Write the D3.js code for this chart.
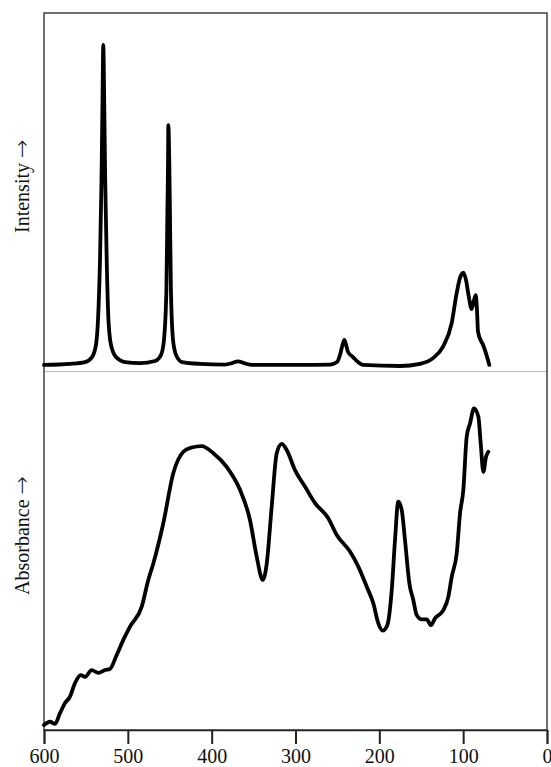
<!DOCTYPE html>
<html>
<head>
<meta charset=utf-8 />
<title>Raman / IR spectra</title>
<style type="text/css">
  body { margin: 0; background: #fff; }
  svg text { font-family: "Liberation Serif", "Times New Roman", serif; fill: #111; }
</style>
<script src="https://d3js.org/d3.v7.min.js"></script>
</head>
<body>
<div id="chart-container"></div>

<script>
// wavenumber ticks along the shared bottom axis
var xTicks = [600, 500, 400, 300, 200, 100, 0];

// top panel (Intensity) : wavenumber / relative intensity
var ramanX = [600, 569, 551.1, 542.7, 538.0, 535.6, 533.2, 531.4, 530.2, 529.3, 528.2, 527.0, 525.2, 523.1, 520.1, 514.1, 503.4, 485.5,
              467.6, 460.4, 456.9, 454.0, 452.8, 452.0, 451.7, 450.6, 449.8, 448.6, 446.1, 442.5, 435.4, 413.9,
              384.1, 375.7, 368.6, 361.4, 351.9, 294.6, 258.8, 250.5, 246.9, 243.9, 241.8, 239.7, 237.3, 231.4, 225.4, 219.5, 175.3,
              151.5, 136.0, 124.0, 113.7, 107.7, 103.8, 99.8, 96.6, 93.6, 89.8, 87.1, 85.0, 83.5, 82.3, 78.7, 76.3, 68.8];
var ramanY = [1.7, 2.0, 2.5, 3.9, 7.3, 14.2, 31, 53.4, 75.7, 91.1, 75.7, 53.4, 31, 14.2, 7.3, 3.9, 2.5, 2.2,
              2.8, 4.5, 8.7, 22.6, 45, 58.9, 68.7, 58.9, 45, 22.6, 8.7, 4.5, 2.5, 2.0,
              1.8, 2.2, 2.7, 2.2, 1.7, 1.7, 1.8, 2.5, 4.5, 7.3, 8.7, 7.3, 5.3, 3.9, 2.5, 1.7, 1.4,
              2.0, 3.6, 6.8, 13.4, 21.8, 26, 27.5, 25.4, 21.2, 17.3, 19.8, 21.2, 17, 11, 8.4, 7.3, 1.7];

// bottom panel (Absorbance)
var irX = [600, 592.8, 586.9, 580.9, 574.9, 569.0, 563.0, 556.2, 551.1, 543.1, 535.2, 527.2, 521.3, 513.3, 505.4, 497.4, 483.5, 475.6,
           469.6, 457.7, 445.8, 433.8, 423.8, 411.9, 398.0, 382.1, 366.2, 354.3, 346.3, 339.1, 334.3, 328.4, 322.4, 316.4, 310.5,
           300.6, 288.7, 276.7, 260.9, 250.8, 235.0, 225.1, 215.0, 207.2, 201.2, 196.0, 190.5, 185.2, 181.3, 177.4, 173.3, 169.4,
           164.2, 159.5, 155.4, 149.4, 143.5, 138.3, 133.6, 123.7, 117.7, 113.6, 107.7, 103.7, 99.8, 95.8, 91.8, 87.1, 81.9,
           79.1, 75.9, 72.7, 70.0];
var irY = [1.4, 2.3, 1.7, 4.7, 7.5, 9.3, 13.1, 15.3, 14.8, 16.7, 15.9, 16.7, 17.0, 20.9, 25.1, 28.8, 34.3, 41.8,
           46.4, 57.6, 71.5, 77.5, 78.7, 79.1, 77.1, 73.3, 66.9, 58.5, 48.3, 41.8, 46.4, 62.2, 77.1, 79.7, 78.0,
           72.4, 67.8, 63.2, 59.0, 54.3, 49.7, 45.5, 39.9, 35.3, 29.7, 27.7, 29.2, 39.0, 52.9, 63.6, 61.3, 52.9,
           40.9, 36.2, 32.0, 30.8, 30.8, 29.2, 31.1, 33.4, 37.1, 42.7, 49.2, 60.4, 66.9, 81.7, 85.4, 89.6, 87.3,
           79.9, 71.9, 76.1, 77.5];

var W = 551, H = 767;
var plotLeft = 44, plotRight = 547, plotTop = 13, plotMid = 371, plotBottom = 730;

var svg = d3.select("#chart-container")
  .append("svg")
    .attr("width", W)
    .attr("height", H);

var x = d3.scaleLinear().domain([600, 0]).range([plotLeft, plotRight]);
var yTop = d3.scaleLinear().domain([0, 100]).range([plotMid, plotTop]);
var yBot = d3.scaleLinear().domain([0, 100]).range([plotBottom, plotMid]);

// faint divider between panels
svg.append("line")
  .attr("x1", plotLeft).attr("x2", plotRight)
  .attr("y1", plotMid + 0.5).attr("y2", plotMid + 0.5)
  .attr("stroke", "#b8b8b8")
  .attr("stroke-width", 1);

// frame
svg.append("rect")
  .attr("x", plotLeft).attr("y", plotTop)
  .attr("width", plotRight - plotLeft).attr("height", plotBottom - plotTop)
  .attr("fill", "none")
  .attr("stroke", "#333")
  .attr("stroke-width", 1.4);

// bottom axis
var xAxis = svg.append("g")
  .attr("transform", "translate(0," + plotBottom + ")")
  .call(d3.axisBottom(x).tickValues(xTicks).tickSize(14).tickPadding(5).tickFormat(d3.format("d")));
xAxis.select(".domain").attr("stroke", "#222").attr("stroke-width", 1.6);
xAxis.selectAll(".tick line").attr("stroke", "#222").attr("stroke-width", 2);
xAxis.selectAll(".tick text")
  .attr("font-size", 20)
  .attr("font-family", "Liberation Serif, serif")
  .attr("fill", "#111");

function drawSpectrum(xs, ys, yScale) {
  var pts = xs.map(function (v, i) { return [v, ys[i]]; });
  var line = d3.line()
    .x(function (d) { return x(d[0]); })
    .y(function (d) { return yScale(d[1]); })
    .curve(d3.curveMonotoneX);
  svg.append("path")
    .datum(pts)
    .attr("d", line)
    .attr("fill", "none")
    .attr("stroke", "#000")
    .attr("stroke-width", 3.8)
    .attr("stroke-linejoin", "round")
    .attr("stroke-linecap", "round");
}

drawSpectrum(ramanX, ramanY, yTop);
drawSpectrum(irX, irY, yBot);

// y labels, starting from the bottom end; arrow from a font with a long glyph
function yLabel(label, startY) {
  var t = svg.append("text")
    .attr("transform", "translate(29," + startY + ") rotate(-90)")
    .attr("text-anchor", "start")
    .attr("font-size", 20);
  t.append("tspan").text(label + " ");
  t.append("tspan")
    .attr("font-family", "DejaVu Sans, sans-serif")
    .attr("font-size", 22)
    .attr("font-weight", 300)
    .text("\u2192");
}
yLabel("Intensity", 233);
yLabel("Absorbance", 595);
</script>
</body>
</html>
